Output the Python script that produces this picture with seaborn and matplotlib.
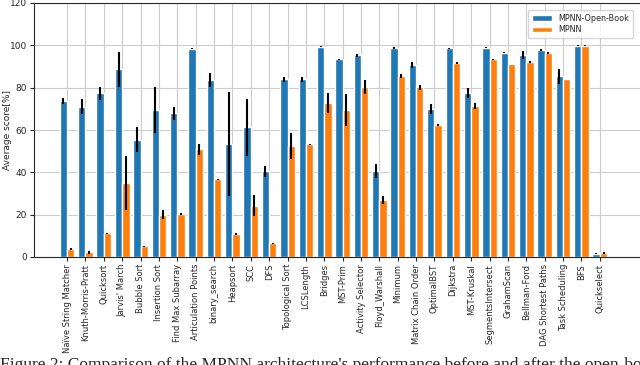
import numpy as np
import pandas as pd
import matplotlib
matplotlib.use("Agg")
import matplotlib.pyplot as plt
import seaborn as sns

# algorithms on the x axis
algorithms = ["Naïve String Matcher", "Knuth-Morris-Pratt", "Quicksort", "Jarvis' March",
              "Bubble Sort", "Insertion Sort", "Find Max Subarray", "Articulation Points",
              "binary_search", "Heapsort", "SCC", "DFS", "Topological Sort", "LCSLength",
              "Bridges", "MST-Prim", "Activity Selector", "Floyd_Warshall", "Minimum",
              "Matrix Chain Order", "OptimalBST", "Dijkstra", "MST-Kruskal",
              "SegmentsIntersect", "GrahamScan", "Bellman-Ford", "DAG Shortest Paths",
              "Task Scheduling", "BFS", "Quickselect"]

open_book_mean = [73.7, 71.1, 77.4, 88.6, 55.5, 69.4, 67.8, 98.4, 83.6, 53.3,
                  61.2, 40.4, 83.9, 83.9, 99.4, 93.4, 95.3, 40.5, 98.7, 90.7,
                  69.9, 98.6, 77.4, 98.9, 96.5, 95.4, 97.8, 85.3, 99.8, 1.5]
open_book_err = [1.6, 3.5, 3.0, 8.3, 5.8, 10.7, 3.2, 0.3, 3.4, 24.7,
                 13.3, 2.8, 1.0, 1.3, 0.2, 0.3, 0.8, 3.3, 0.3, 1.5,
                 2.4, 0.3, 2.5, 0.3, 0.3, 1.7, 0.3, 3.6, 0.2, 0.2]

mpnn_mean = [3.8, 2.2, 11.2, 34.9, 5.0, 20.0, 20.3, 50.8, 36.8, 10.7,
             24.3, 6.5, 52.5, 53.2, 72.7, 69.4, 80.4, 26.8, 85.5, 80.1,
             62.3, 91.8, 71.3, 93.5, 91.2, 92.3, 96.5, 84.1, 99.8, 1.8]
mpnn_err = [0.3, 0.8, 0.2, 12.6, 0.4, 2.0, 0.3, 2.4, 0.2, 0.5,
            4.9, 0.3, 6.3, 0.2, 4.8, 7.5, 3.2, 1.8, 0.8, 1.3,
            0.3, 0.5, 1.3, 0.2, 0.2, 0.5, 0.5, 0.2, 0.2, 0.5]

models = ["MPNN-Open-Book", "MPNN"]

df = pd.DataFrame({
    "algorithm": algorithms * 2,
    "model": [models[0]] * len(algorithms) + [models[1]] * len(algorithms),
    "score": open_book_mean + mpnn_mean,
})
errs = [open_book_err, mpnn_err]

sns.set_style("whitegrid", {"axes.edgecolor": "0.15", "grid.color": "0.8",
                            "xtick.bottom": True, "ytick.left": True})
plt.rcParams["font.family"] = ["DejaVu Sans"]

fig = plt.figure(figsize=(6.4, 3.65), dpi=100)
ax = fig.add_axes([34 / 640, 1 - 257 / 365, 609 / 640, 254 / 365])

sns.barplot(data=df, x="algorithm", y="score", hue="model", errorbar=None,
            palette=["#1f77b4", "#ff7f0e"], saturation=1, width=0.8, ax=ax)

# error bars on top of the bars
for cont, e in zip(ax.containers, errs):
    xs = [p.get_x() + p.get_width() / 2 for p in cont.patches]
    hs = [p.get_height() for p in cont.patches]
    ax.errorbar(xs, hs, yerr=e, fmt="none", ecolor="black", elinewidth=1.5, capsize=0)

ax.grid(True, axis="both", color="0.8", linewidth=0.8)
ax.set_axisbelow(True)
ax.set_xlim(-1.8, 31.35)
ax.set_ylim(0, 120)
ax.set_yticks(range(0, 121, 20))
ax.set_xlabel("")
ax.set_ylabel("Average score[%]", fontsize=6.5, va="center")
ax.yaxis.set_label_coords(-0.044, 0.5)
ax.tick_params(axis="x", labelrotation=90, labelsize=6, length=3, width=0.8, pad=2)
ax.tick_params(axis="y", labelsize=6.5, length=3, width=0.8, pad=2)
for s in ax.spines.values():
    s.set_linewidth(0.8)

ax.legend(loc="upper right", fontsize=5.8, frameon=True, borderpad=0.5,
          handlelength=2.4, labelspacing=0.35, bbox_to_anchor=(0.99, 0.99))

fig.text(0.0, 0.022, "Figure 2: Comparison of the MPNN architecture's performance before and after the open-book framework with",
         family="Liberation Serif", fontsize=12.5, va="top", ha="left")

fig.savefig("out.png", dpi=100)
